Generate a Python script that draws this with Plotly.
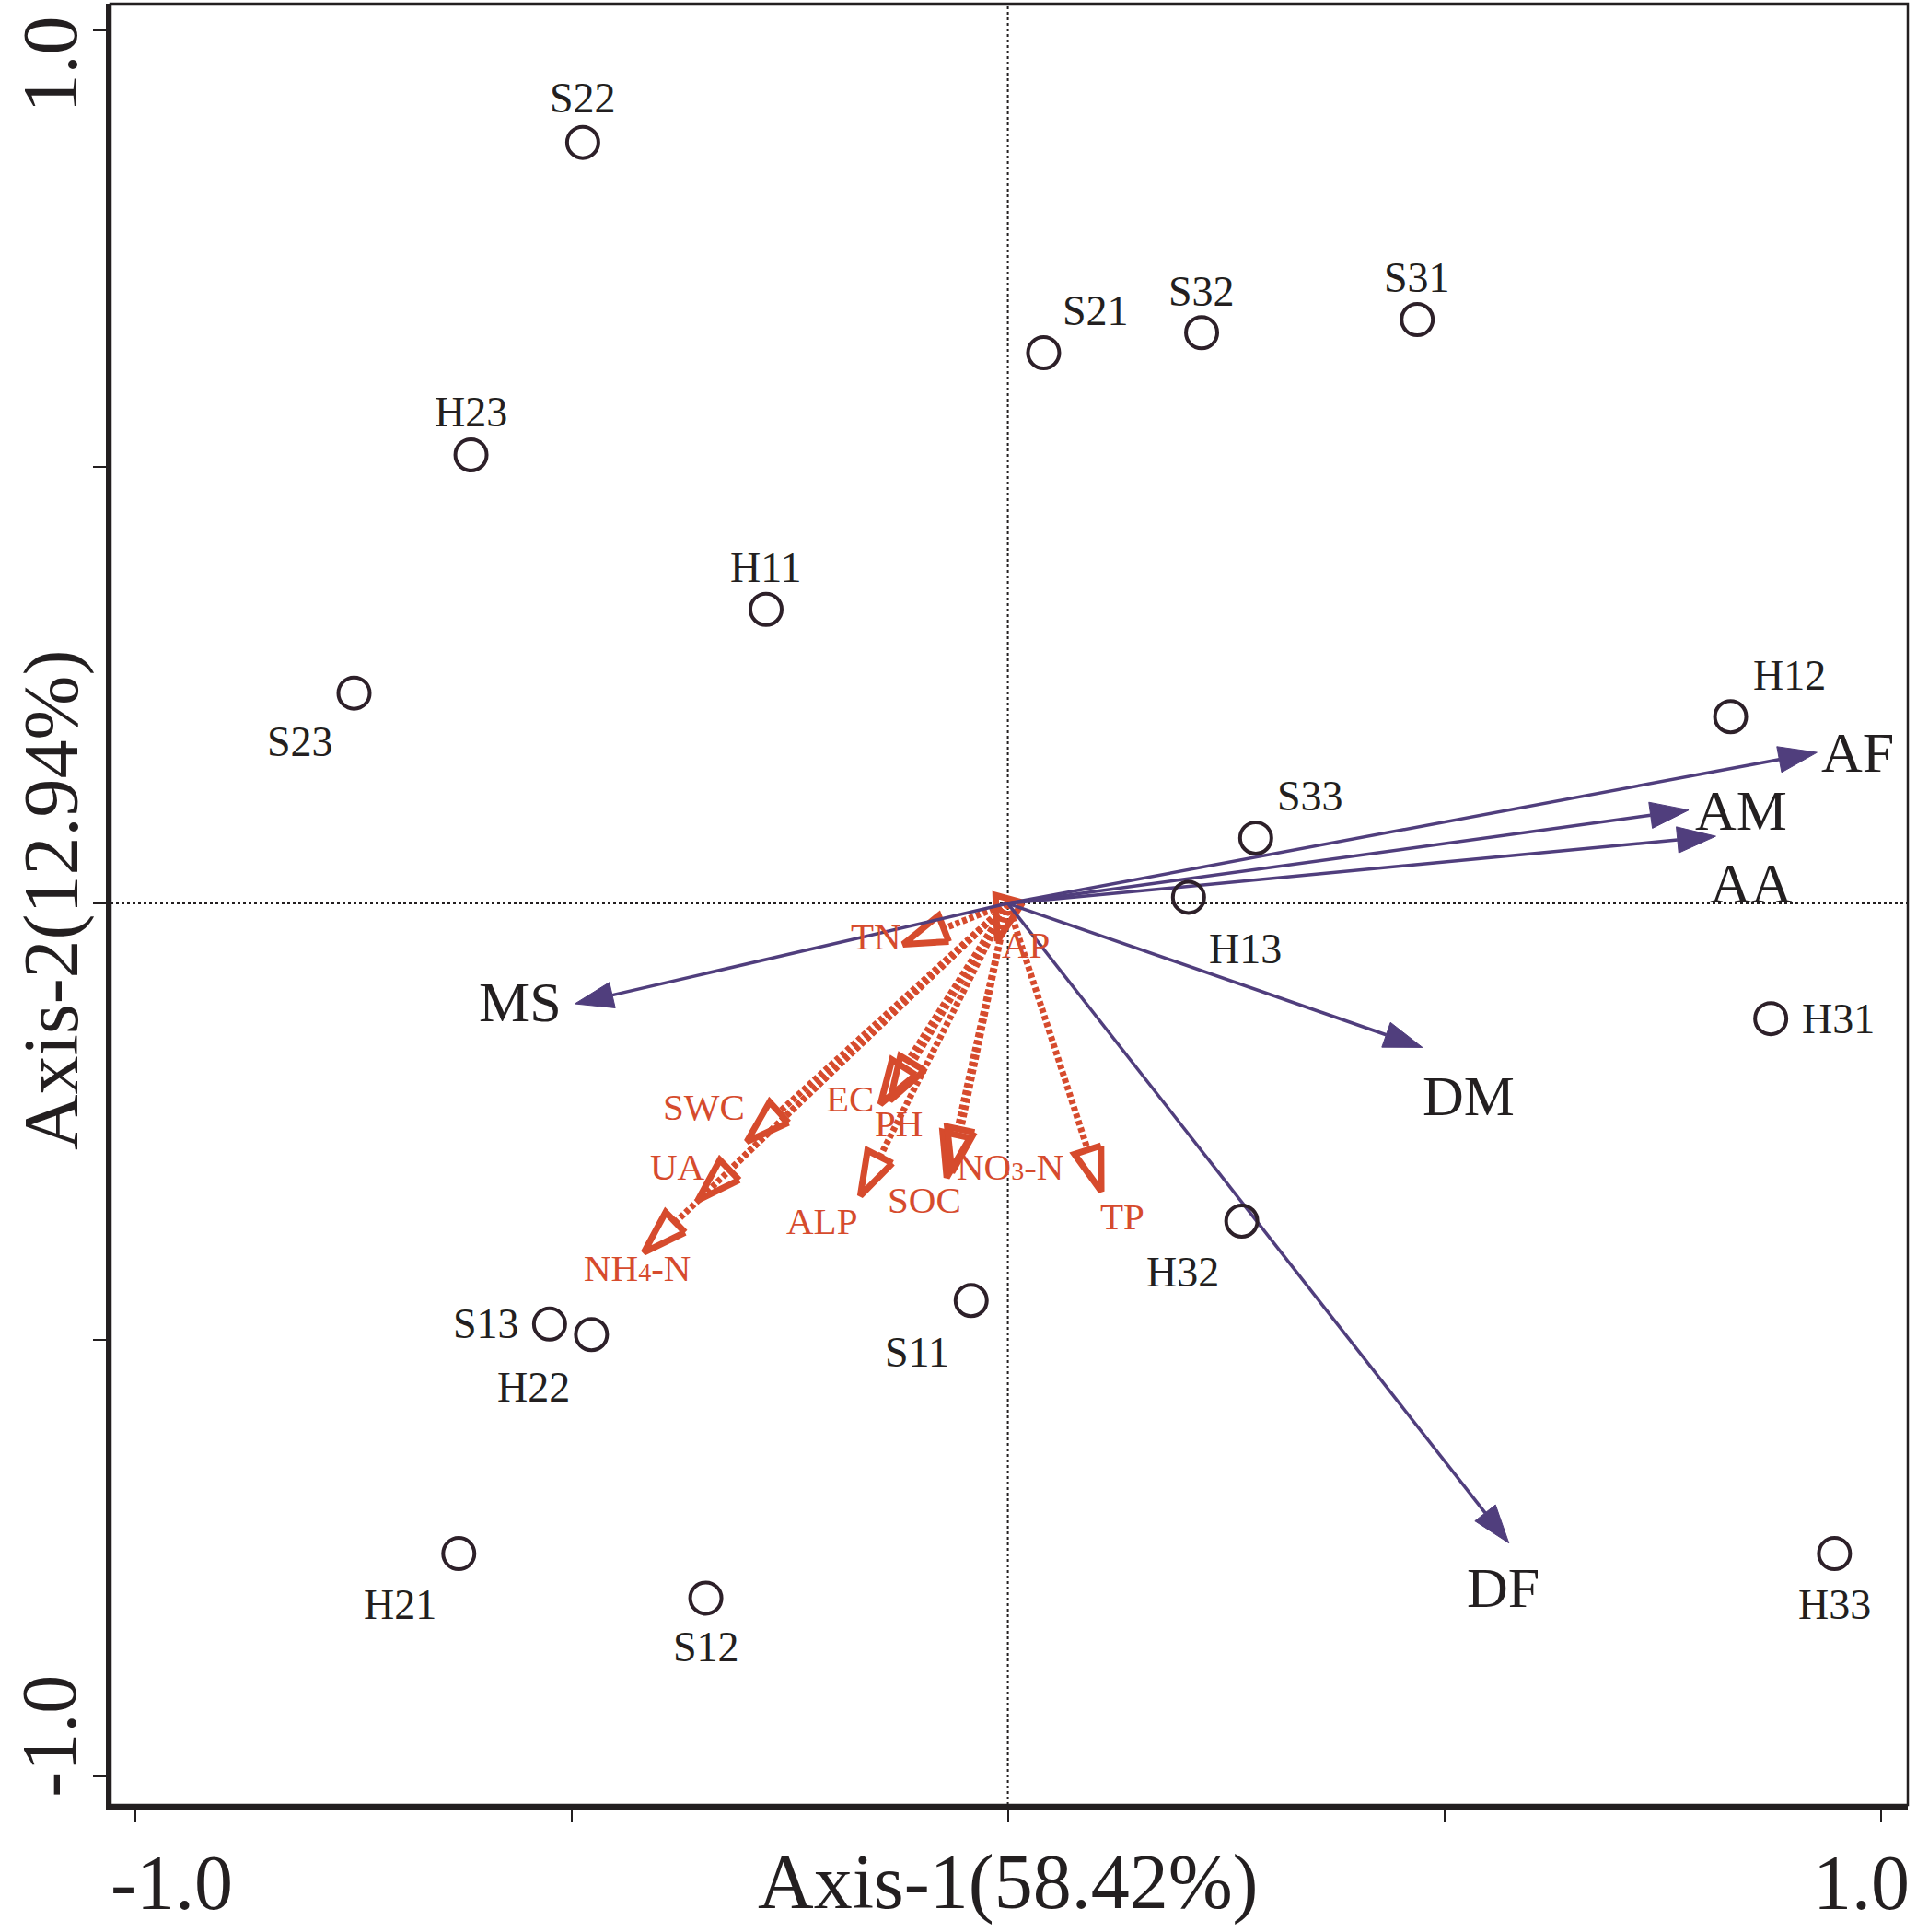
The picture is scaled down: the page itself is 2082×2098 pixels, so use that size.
import numpy as np
import plotly.graph_objects as go

# %% data (axis units)
sites = ["S22", "S21", "S32", "S31", "H23", "H11", "S23", "H12", "S33",
         "H13", "H31", "H32", "S11", "S13", "H22", "H21", "S12", "H33"]
site_x = [-0.487, 0.041, 0.222, 0.469, -0.615, -0.277, -0.749, 0.828, 0.284,
          0.207, 0.874, 0.268, -0.042, -0.525, -0.477, -0.629, -0.346, 0.947]
site_y = [0.872, 0.631, 0.654, 0.669, 0.514, 0.337, 0.241, 0.214, 0.075,
          0.007, -0.132, -0.364, -0.455, -0.482, -0.494, -0.745, -0.796, -0.745]

species = ["AF", "AM", "AA", "MS", "DM", "DF"]
sp_x = [0.927, 0.780, 0.811, -0.496, 0.475, 0.574]
sp_y = [0.173, 0.107, 0.077, -0.115, -0.165, -0.733]

SUB = '<span style="font-size:28px">{}</span>'
env = ["TN", "AP", "SWC", "UA", "NH" + SUB.format(4) + "-N", "EC", "PH", "ALP",
       "SOC", "NO" + SUB.format(3) + "-N", "TP"]
env_x = [-0.120, -0.012, -0.299, -0.355, -0.417, -0.146, -0.135, -0.169,
         -0.070, -0.064, 0.107]
env_y = [-0.047, -0.043, -0.273, -0.340, -0.400, -0.230, -0.226, -0.335,
         -0.314, -0.308, -0.330]

tick_vals = [-1.0, -0.5, 0.0, 0.5, 1.0]
edge_labels = ["-1.0", "1.0"]
x_title = "Axis-1(58.42%)"
y_title = "Axis-2(12.94%)"

# %% label placement (pixel offsets from the point / arrow tip)
site_shift = [(0, 48), (57, 46), (0, 45), (0, 46), (0, 46), (0, 45), (-59, -53),
              (64, 45), (59, 45), (62, -56), (73, 0), (-64, -55), (-59, -56),
              (-69, 0), (-63, -57), (-64, -55), (0, -53), (0, -55)]
sp_shift = [(44, 0), (57, 0), (39, -51), (-59, 2), (50, -53), (-6, -48)]
env_shift = [(-29, 9), (31, -4), (-47, 38), (-22, 36), (-7, -17), (-33, 6),
             (9, -25), (-42, -27), (-24, -24), (63, 6), (23, -27)]

BLACK = "#231F20"
CIRCLE = "#2D2029"
BLUE = "#503E7D"
RED = "#D64B2D"
FONT = "Liberation Serif"


def arrow_head(tx, ty, length, half):
    n = np.hypot(tx, ty)
    ux, uy = tx / n, ty / n
    bx, by = tx - length * ux, ty - length * uy
    px, py = -uy, ux
    hx = [bx + half * px, tx, bx - half * px, bx + half * px]
    hy = [by + half * py, ty, by - half * py, by + half * py]
    return bx, by, hx, hy


fig = go.Figure()

# %% red (environment) arrows: dotted shafts, open triangle heads
rlx, rly, rhx, rhy = [], [], [], []
for x, y in zip(env_x, env_y):
    bx, by, hx, hy = arrow_head(x, y, 0.05, 0.016)
    if np.hypot(x, y) > 0.05:
        rlx += [0, bx, None]
        rly += [0, by, None]
    rhx += hx + [None]
    rhy += hy + [None]

fig.add_trace(go.Scatter(x=rlx, y=rly, mode="lines", hoverinfo="skip",
                         line=dict(color=RED, width=7, dash="5px,3px")))
fig.add_trace(go.Scatter(x=rhx, y=rhy, mode="lines", hoverinfo="skip",
                         line=dict(color=RED, width=7)))

# %% blue (species) arrows
blx, bly, bhx, bhy = [], [], [], []
for x, y in zip(sp_x, sp_y):
    bx, by, hx, hy = arrow_head(x, y, 0.044, 0.015)
    blx += [0, bx, None]
    bly += [0, by, None]
    bhx += hx + [None]
    bhy += hy + [None]

fig.add_trace(go.Scatter(x=blx, y=bly, mode="lines", hoverinfo="skip",
                         line=dict(color=BLUE, width=3.5)))
fig.add_trace(go.Scatter(x=bhx, y=bhy, mode="lines", fill="toself",
                         fillcolor=BLUE, hoverinfo="skip",
                         line=dict(color=BLUE, width=1)))

# %% sites
fig.add_trace(go.Scatter(
    x=site_x, y=site_y, mode="markers", text=sites,
    marker=dict(symbol="circle-open", size=34, color=CIRCLE,
                line=dict(width=4, color=CIRCLE)),
))

annotations = []
for name, x, y, (dx, dy) in zip(sites, site_x, site_y, site_shift):
    annotations.append(dict(x=x, y=y, text=name, showarrow=False,
                            xshift=dx, yshift=dy,
                            font=dict(family=FONT, size=46, color=BLACK)))
for name, x, y, (dx, dy) in zip(species, sp_x, sp_y, sp_shift):
    annotations.append(dict(x=x, y=y, text=name, showarrow=False,
                            xshift=dx, yshift=dy,
                            font=dict(family=FONT, size=62, color=BLACK)))
for name, x, y, (dx, dy) in zip(env, env_x, env_y, env_shift):
    annotations.append(dict(x=x, y=y, text=name, showarrow=False,
                            xshift=dx, yshift=dy,
                            font=dict(family=FONT, size=41, color=RED)))

# axis texts
axis_font = dict(family=FONT, size=84, color=BLACK)
annotations += [
    dict(x=tick_vals[0], y=0, xref="x", yref="paper", text=edge_labels[0],
         xshift=40, yshift=-84),
    dict(x=tick_vals[-1], y=0, xref="x", yref="paper", text=edge_labels[1],
         xshift=-21, yshift=-84),
    dict(x=tick_vals[2], y=0, xref="x", yref="paper", text=x_title,
         yshift=-84),
    dict(x=0, y=tick_vals[-1], xref="paper", yref="y", text=edge_labels[1],
         xshift=-66, yshift=-37, textangle=-90),
    dict(x=0, y=tick_vals[0], xref="paper", yref="y", text=edge_labels[0],
         xshift=-66, yshift=43, textangle=-90),
    dict(x=0, y=tick_vals[2], xref="paper", yref="y", text=y_title,
         xshift=-64, yshift=4, textangle=-90),
]
for a in annotations[-6:]:
    a.update(showarrow=False, xanchor="center", yanchor="middle", font=axis_font)
for a in annotations[:-6]:
    a.update(xanchor="center", yanchor="middle")

axis_style = dict(showgrid=False, zeroline=False, showline=True,
                  linewidth=5, linecolor=BLACK, ticks="outside", ticklen=14,
                  tickwidth=2, tickcolor=BLACK, tickvals=tick_vals,
                  showticklabels=False, fixedrange=True)

fig.update_layout(
    width=2082, height=2098,
    margin=dict(l=120, r=10, t=4, b=138),
    paper_bgcolor="white", plot_bgcolor="white",
    showlegend=False,
    xaxis=dict(range=[-1.028, 1.031], **axis_style),
    yaxis=dict(range=[-1.033, 1.031], **axis_style),
    annotations=annotations,
    shapes=[
        dict(type="line", xref="x", yref="paper", x0=0, x1=0, y0=0, y1=1,
             layer="below", line=dict(color=BLACK, width=2, dash="3px,3px")),
        dict(type="line", xref="paper", yref="y", x0=0, x1=1, y0=0, y1=0,
             layer="below", line=dict(color=BLACK, width=2, dash="3px,3px")),
        dict(type="rect", xref="paper", yref="paper", x0=0, x1=1, y0=0, y1=1,
             line=dict(color=BLACK, width=2.5)),
    ],
)

fig.write_html("out.html", config={"displayModeBar": False},
               post_script="document.body.style.margin='0';")
